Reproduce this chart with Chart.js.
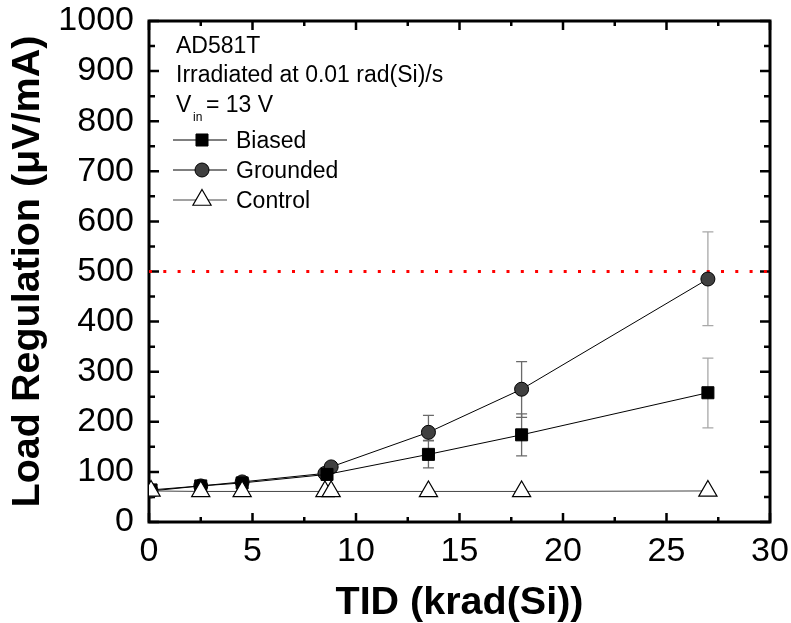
<!DOCTYPE html>
<html>
<head>
<meta charset="utf-8">
<script src="https://cdn.jsdelivr.net/npm/chart.js"></script>
<style>
  body { margin: 0; background: #fff; }
</style>
</head>
<body>
<canvas id="Chart" width="791" height="623"></canvas>
<script>
// values
const tidBiased = [0.1, 2.5, 4.5, 8.6, 13.5, 18, 27];
const biased = [64, 72, 78, 95, 135, 174, 258];
const biasedErrLow = [null, null, null, null, 108, 132, 188];
const biasedErrHigh = [null, null, null, null, 163, 216, 327];

const tidGrounded = [0.1, 2.5, 4.5, 8.5, 8.8, 13.5, 18, 27];
const grounded = [62, 72, 80, 97, 110, 179, 265, 485];
const groundedErrLow = [null, null, null, null, null, 162, 209, 392];
const groundedErrHigh = [null, null, null, null, null, 213, 320, 579];

const tidControl = [0.1, 2.5, 4.5, 8.5, 8.8, 13.5, 18, 27];
const control = [62, 61, 61, 61, 61, 61, 61, 62];

const limitX = [0, 30];
const limitY = [500, 500];

const noteLines = ["AD581T", "Irradiated at 0.01 rad(Si)/s"];
const FONT = "'Liberation Sans', Arial, Helvetica, sans-serif";

function pts(xs, ys) {
  return xs.map((x, i) => ({ x: x, y: ys[i] }));
}

const framePlugin = {
  id: "frame",
  beforeDatasetsDraw(chart) {
    const { ctx, chartArea: a, scales } = chart;
    ctx.save();
    ctx.strokeStyle = "#000";
    ctx.lineWidth = 2.5;
    ctx.beginPath();
    for (let v = 0; v <= 30; v += 2.5) {
      const px = scales.x.getPixelForValue(v);
      const len = v % 5 === 0 ? 9 : 5;
      ctx.moveTo(px, a.bottom); ctx.lineTo(px, a.bottom - len);
      ctx.moveTo(px, a.top); ctx.lineTo(px, a.top + len);
    }
    for (let v = 0; v <= 1000; v += 50) {
      const py = scales.y.getPixelForValue(v);
      const len = v % 100 === 0 ? 10 : 6;
      ctx.moveTo(a.left, py); ctx.lineTo(a.left + len, py);
      ctx.moveTo(a.right, py); ctx.lineTo(a.right - len, py);
    }
    ctx.stroke();
    ctx.lineWidth = 3;
    ctx.strokeRect(a.left, a.top, a.right - a.left, a.bottom - a.top);

    // error bars
    const bars = [
      [tidBiased, biasedErrLow, biasedErrHigh],
      [tidGrounded, groundedErrLow, groundedErrHigh]
    ];
    ctx.lineWidth = 1.3;
    bars.forEach(([xs, lo, hi]) => {
      xs.forEach((x, i) => {
        if (lo[i] == null) return;
        ctx.strokeStyle = i === xs.length - 1 ? "#a8a8a8" : "#6a6a6a";
        const px = scales.x.getPixelForValue(x);
        const y1 = scales.y.getPixelForValue(lo[i]);
        const y2 = scales.y.getPixelForValue(hi[i]);
        ctx.beginPath();
        ctx.moveTo(px, y1); ctx.lineTo(px, y2);
        ctx.moveTo(px - 5.5, y1); ctx.lineTo(px + 5.5, y1);
        ctx.moveTo(px - 5.5, y2); ctx.lineTo(px + 5.5, y2);
        ctx.stroke();
      });
    });
    ctx.restore();
  }
};

const notesPlugin = {
  id: "notes",
  afterDraw(chart) {
    const ctx = chart.ctx;
    ctx.save();
    ctx.fillStyle = "#000";
    ctx.textBaseline = "alphabetic";
    ctx.font = "23px " + FONT;
    ctx.fillText(noteLines[0], 176, 53);
    ctx.fillText(noteLines[1], 176, 82);
    ctx.fillText("V", 176, 112);
    ctx.font = "12px " + FONT;
    ctx.fillText("in", 193, 121);
    ctx.font = "23px " + FONT;
    ctx.fillText("= 13 V", 206, 112);

    // legend
    const items = chart.data.datasets.filter(d => d.label);
    items.forEach((d, i) => {
      const cy = 140 + i * 30;
      ctx.strokeStyle = d.borderColor;
      ctx.lineWidth = 1;
      ctx.beginPath();
      ctx.moveTo(173, cy); ctx.lineTo(227, cy);
      ctx.stroke();
      ctx.fillStyle = d.pointBackgroundColor;
      ctx.strokeStyle = d.pointBorderColor;
      ctx.lineWidth = d.pointBorderWidth;
      Chart.helpers.drawPoint(ctx, { pointStyle: d.pointStyle, radius: d.pointRadius, borderWidth: d.pointBorderWidth, rotation: 0 }, 202, cy);
      ctx.fillStyle = "#000";
      ctx.font = "23px " + FONT;
      ctx.fillText(d.label, 236, cy + 8);
    });
    ctx.restore();
  }
};

new Chart("Chart", {
  type: "line",
  data: {
    datasets: [
      {
        label: "Biased",
        data: pts(tidBiased, biased),
        borderColor: "#000",
        borderWidth: 1,
        pointStyle: "rect",
        pointRadius: 8.5,
        pointBackgroundColor: "#000",
        pointBorderColor: "#000",
        pointBorderWidth: 1,
        order: 1
      },
      {
        label: "Grounded",
        data: pts(tidGrounded, grounded),
        borderColor: "#000",
        borderWidth: 1,
        pointStyle: "circle",
        pointRadius: 7,
        pointBackgroundColor: "#404040",
        pointBorderColor: "#000",
        pointBorderWidth: 1,
        order: 2
      },
      {
        label: "Control",
        data: pts(tidControl, control),
        borderColor: "#444",
        borderWidth: 1,
        pointStyle: "triangle",
        pointRadius: 10.5,
        pointBackgroundColor: "#fff",
        pointBorderColor: "#000",
        pointBorderWidth: 1.2,
        order: 0
      },
      {
        data: pts(limitX, limitY),
        borderColor: "#ff0000",
        borderWidth: 3,
        borderDash: [3, 11.3],
        pointRadius: 0,
        order: 3
      }
    ]
  },
  options: {
    responsive: false,
    animation: false,
    layout: { padding: { top: 21, right: 21, left: 0, bottom: 0 } },
    plugins: {
      legend: { display: false },
      tooltip: { enabled: false }
    },
    scales: {
      x: {
        type: "linear",
        min: 0,
        max: 30,
        grid: { display: false, drawTicks: false },
        border: { display: false },
        ticks: { stepSize: 5, color: "#000", padding: 9, font: { family: FONT, size: 34 }, callback: v => String(v) },
        title: { display: true, text: "TID (krad(Si))", color: "#000", padding: 0, font: { family: FONT, size: 39.5, weight: "bold", lineHeight: 1.0 } },
        afterFit(scale) {
          scale.height = 101;
          scale.paddingLeft = 0;
          scale.paddingRight = 0;
        }
      },
      y: {
        type: "linear",
        min: 0,
        max: 1000,
        grid: { display: false, drawTicks: false },
        border: { display: false },
        ticks: { stepSize: 100, color: "#000", padding: 15, font: { family: FONT, size: 34 }, callback: v => String(v) },
        title: { display: true, text: "Load Regulation (μV/mA)", color: "#000", padding: { top: 8, bottom: 0 }, font: { family: FONT, size: 39.5, weight: "bold", lineHeight: 1.0 } },
        afterFit(scale) {
          scale.width = 149;
          scale.paddingTop = 0;
          scale.paddingBottom = 0;
        }
      }
    }
  },
  plugins: [framePlugin, notesPlugin]
});
</script>
</body>
</html>
